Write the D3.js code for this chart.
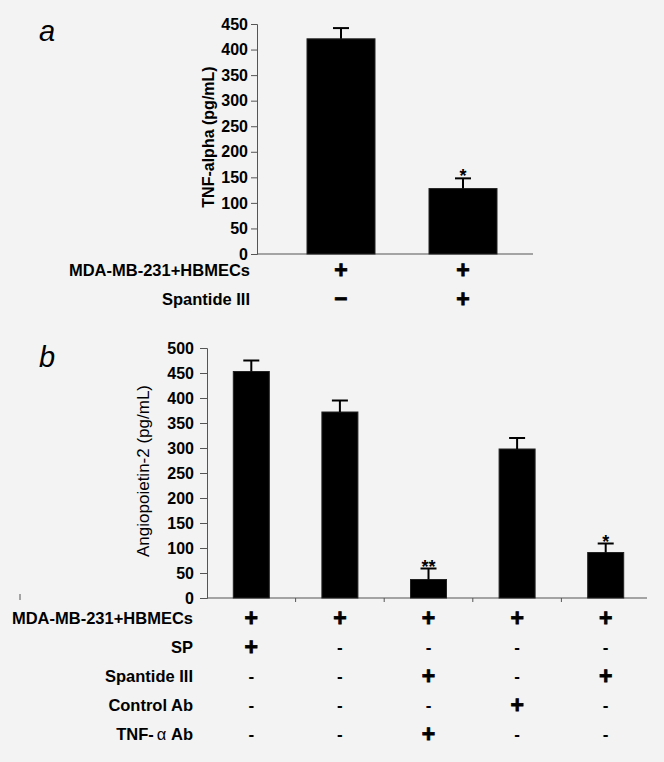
<!DOCTYPE html>
<html lang="en">
<head>
  <meta charset="utf-8">
  <title>TNF-alpha and Angiopoietin-2</title>
  <script src="https://d3js.org/d3.v7.min.js"></script>
  <style>
    body { margin: 0; background: #f3f3f3; }
    svg { display: block; font-family: Arial, "Liberation Sans", sans-serif; }
  </style>
</head>
<body>
<script>
  // panel a data
  var aGroups = ["g1", "g2"];
  var aMeans = [421, 128];
  var aErrors = [21, 20];
  var aStars = ["", "*"];
  var aRowLabels = ["MDA-MB-231+HBMECs", "Spantide III"];
  var aRowMarks = [["+", "+"], ["\u2013", "+"]];
  var aTicks = [0, 50, 100, 150, 200, 250, 300, 350, 400, 450];

  // panel b data
  var bGroups = ["g1", "g2", "g3", "g4", "g5"];
  var bMeans = [453, 372, 37, 298, 91];
  var bErrors = [22, 23, 22, 22, 18];
  var bStars = ["", "", "**", "", "*"];
  var bRowLabels = ["MDA-MB-231+HBMECs", "SP", "Spantide III", "Control Ab", "TNF-\u03b1 Ab"];
  var bRowMarks = [
    ["+", "+", "+", "+", "+"],
    ["+", "-", "-", "-", "-"],
    ["-", "-", "+", "-", "+"],
    ["-", "-", "-", "+", "-"],
    ["-", "-", "+", "-", "-"]
  ];
  var bTicks = [0, 50, 100, 150, 200, 250, 300, 350, 400, 450, 500];

  var w = 664, h = 762;
  var axisColour = "#555";

  var svg = d3.select("body").append("svg")
    .attr("width", w)
    .attr("height", h);

  svg.append("rect").attr("width", w).attr("height", h).attr("fill", "#f3f3f3");

  function drawPanel(opt) {
    var g = svg.append("g");

    var y = d3.scaleLinear().domain([0, opt.ticks[opt.ticks.length - 1]]).range([opt.y0, opt.y1]);
    var x = d3.scaleBand().domain(opt.groups).range(opt.xRange).padding(0);
    var cx = function(i) { return x(opt.groups[i]) + x.bandwidth() / 2; };

    // y axis
    var yAxis = g.append("g")
      .attr("transform", "translate(" + opt.axisX + ",0)")
      .call(d3.axisLeft(y).tickValues(opt.ticks).tickSize(opt.tickSize).tickPadding(opt.tickPad).tickFormat(d3.format("d")));
    yAxis.select(".domain").attr("stroke", axisColour);
    yAxis.selectAll(".tick line").attr("stroke", axisColour);
    yAxis.selectAll(".tick text")
      .attr("fill", "#000")
      .style("font-size", "16px")
      .style("font-weight", "bold");

    // x axis line
    g.append("line")
      .attr("x1", opt.axisX).attr("x2", opt.xEnd)
      .attr("y1", opt.y0).attr("y2", opt.y0)
      .attr("stroke", axisColour).attr("stroke-width", 1.2);

    if (opt.boundaryTicks) {
      g.selectAll(".btick").data(opt.groups.slice(1)).enter().append("line")
        .attr("x1", function(d) { return x(d); }).attr("x2", function(d) { return x(d); })
        .attr("y1", opt.y0).attr("y2", opt.y0 + 4)
        .attr("stroke", axisColour);
    }

    // axis title
    g.append("text")
      .attr("transform", "translate(" + opt.titleX + "," + opt.titleY + ") rotate(-90)")
      .attr("text-anchor", "middle")
      .style("font-size", opt.titleSize)
      .style("font-weight", opt.titleWeight)
      .text(opt.title);

    // bars
    g.selectAll(".bar").data(opt.means).enter().append("rect")
      .attr("x", function(d, i) { return cx(i) - opt.barW / 2; })
      .attr("y", function(d) { return y(d); })
      .attr("width", opt.barW)
      .attr("height", function(d) { return opt.y0 - y(d); })
      .attr("fill", "#000")
      .attr("stroke", "#222");

    // error bars
    opt.means.forEach(function(m, i) {
      var top = y(m + opt.errors[i]);
      g.append("line")
        .attr("x1", cx(i)).attr("x2", cx(i))
        .attr("y1", y(m)).attr("y2", top)
        .attr("stroke", "#000").attr("stroke-width", 2);
      g.append("line")
        .attr("x1", cx(i) - 8).attr("x2", cx(i) + 8)
        .attr("y1", top).attr("y2", top)
        .attr("stroke", "#000").attr("stroke-width", 2);
      if (opt.stars[i]) {
        g.append("text")
          .attr("x", cx(i)).attr("y", top + 4)
          .attr("text-anchor", "middle")
          .style("font-size", "18px")
          .style("font-weight", "bold")
          .text(opt.stars[i]);
      }
    });

    // treatment rows
    opt.rowLabels.forEach(function(lab, r) {
      var ry = opt.rowY[r];
      var t = g.append("text")
        .attr("x", opt.labelX).attr("y", ry)
        .attr("text-anchor", "end")
        .style("font-size", "16.5px")
        .style("font-weight", "bold");
      if (lab.indexOf("\u03b1") >= 0) {
        var parts = lab.split("\u03b1");
        t.append("tspan").text(parts[0]);
        t.append("tspan").attr("dx", 3).style("font-weight", "normal").text("\u03b1");
        t.append("tspan").text(parts[1]);
      } else {
        t.text(lab);
      }
      g.selectAll(".mark" + r).data(opt.rowMarks[r]).enter().append("text")
        .attr("x", function(d, i) { return cx(i); })
        .attr("y", function(d) { return d === "+" ? ry + 2 : ry; })
        .attr("text-anchor", "middle")
        .style("font-size", function(d) { return d === "+" ? "23px" : (d === "-" ? "17px" : "23px"); })
        .style("font-weight", "900")
        .attr("stroke", function(d) { return d === "-" ? "none" : "#000"; })
        .attr("stroke-width", 0.8)
        .text(function(d) { return d; });
    });

    // panel letter
    svg.append("text")
      .attr("x", 39).attr("y", opt.letterY)
      .style("font-size", "29px")
      .style("font-style", "italic")
      .text(opt.letter);
  }

  drawPanel({
    letter: "a", letterY: 41,
    groups: aGroups, means: aMeans, errors: aErrors, stars: aStars,
    ticks: aTicks, y0: 254, y1: 24,
    axisX: 257, xRange: [280, 524], xEnd: 533, barW: 68,
    tickSize: 6, tickPad: 3, boundaryTicks: false,
    title: "TNF-alpha (pg/mL)", titleX: 214, titleY: 137, titleSize: "16px", titleWeight: "bold",
    rowLabels: aRowLabels, rowMarks: aRowMarks, rowY: [276, 305], labelX: 250
  });

  drawPanel({
    letter: "b", letterY: 367,
    groups: bGroups, means: bMeans, errors: bErrors, stars: bStars,
    ticks: bTicks, y0: 598, y1: 348,
    axisX: 207, xRange: [207, 650], xEnd: 647, barW: 36,
    tickSize: 7, tickPad: 6, boundaryTicks: true,
    title: "Angiopoietin-2 (pg/mL)", titleX: 149, titleY: 471, titleSize: "17px", titleWeight: "normal",
    rowLabels: bRowLabels, rowMarks: bRowMarks, rowY: [624, 653, 682, 711, 740], labelX: 193
  });

  // small stray tick at the left of panel b's baseline
  svg.append("line")
    .attr("x1", 20).attr("x2", 20).attr("y1", 594).attr("y2", 600)
    .attr("stroke", axisColour);
</script>
</body>
</html>
